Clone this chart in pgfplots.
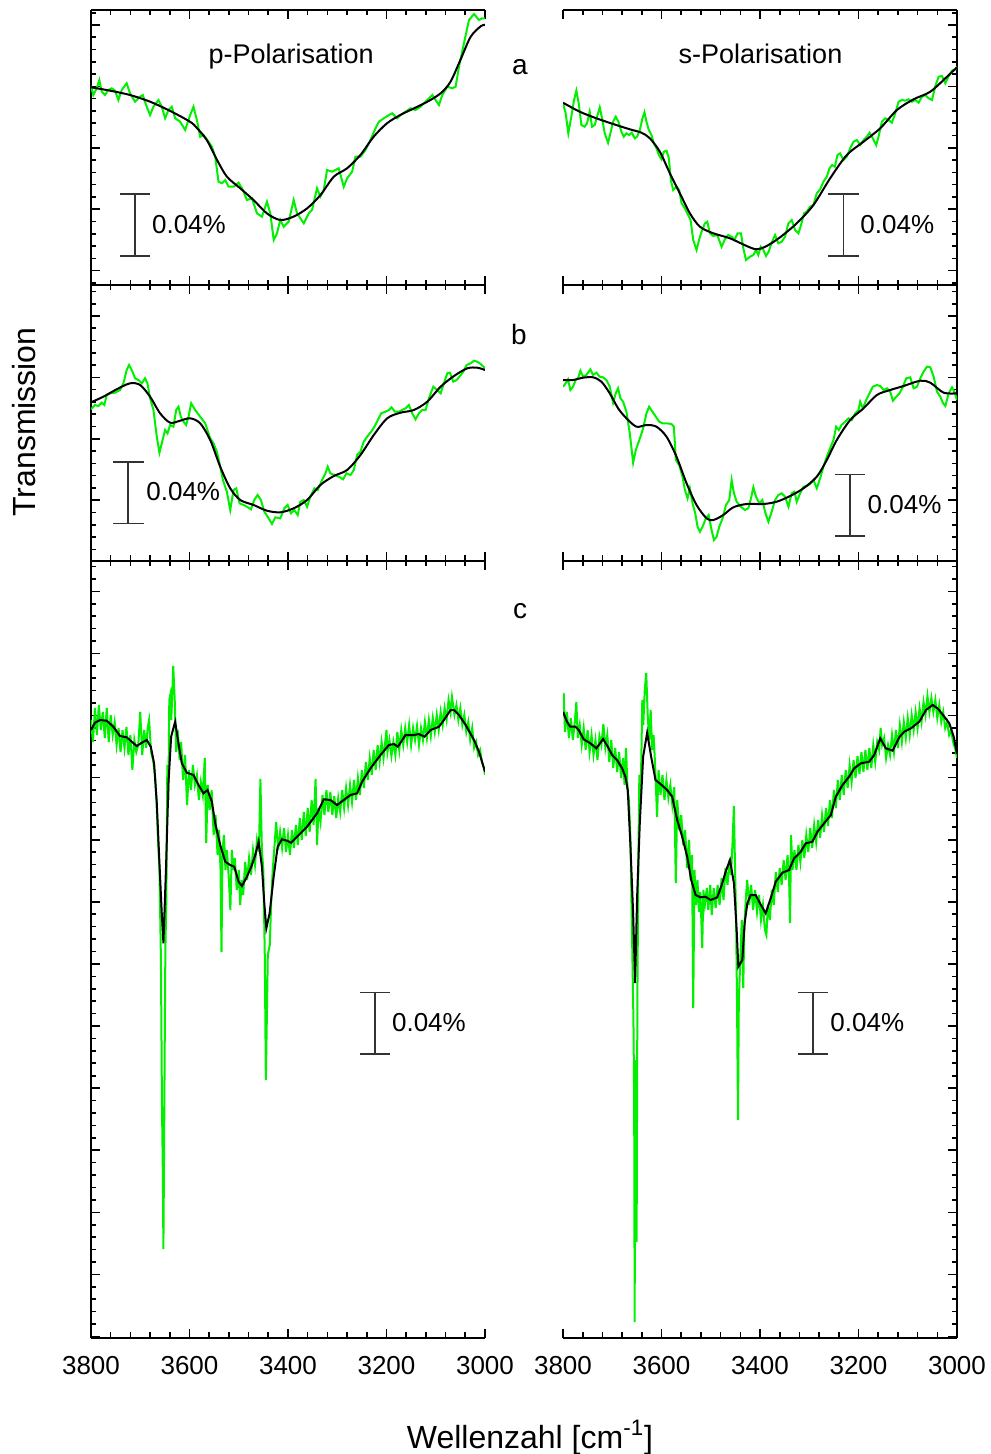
\documentclass[border=0pt]{standalone}
\usepackage{fontspec}
\setmainfont{Liberation Sans}
\usepackage{pgfplots}
\pgfplotsset{compat=1.18}
\definecolor{specgreen}{RGB}{0,240,0}
\pgfplotsset{
  panel/.style={
    scale only axis, width=197pt, anchor=north west,
    x dir=reverse, y dir=reverse,
    xmin=3000, xmax=3800, xtick={3000,3200,...,3800}, minor x tick num=4,
    axis x line*=box, xtick pos=both, tick align=inside,
    major tick length=4.6pt, minor tick length=2.7pt,
    tick style={line width=0.8pt, black},
    axis line style={line width=0.8pt, black},
    yticklabels={},
    /pgf/number format/1000 sep={},
    /pgf/number format/assume math mode=true,
    ticklabel style={font=\fontsize{13}{15}\selectfont},
    xticklabel style={yshift=-6pt},
  },
  lp/.style={panel, axis y line*=left},
  rp/.style={panel, axis y line*=right},
  rowa/.style={height=137.5pt, ymin=10, ymax=285, ytick={25,86.4,...,285}, minor ytick={12.72,25,...,285}, xticklabels={}},
  rowb/.style={height=137.85pt, ymin=285, ymax=560.7, ytick={316,377.4,...,560.7}, minor ytick={291.44,303.72,...,560.7}, xticklabels={}},
  rowc/.style={height=388.5pt, ymin=560.7, ymax=1337.7, ytick={591.3,653.4,...,1338}, minor ytick={566.46,578.88,...,1338}},
  gr/.style={specgreen, line width=1pt},
  bk/.style={black, line width=1pt},
  sb/.style={black!80, line width=0.8pt},
}
\begin{document}
\begin{tikzpicture}
\path[use as bounding box] (0,0) rectangle (495pt,-727pt);

% ---------- a left ----------
\begin{axis}[lp, rowa, at={(45.5pt,-5pt)}]
\addplot[gr] coordinates {(3800,86.0) (3795.3,95.0) (3788.5,88.3) (3783,80.0) (3778.3,91.7) (3771.5,95.0) (3764.7,90.0) (3758,88.3) (3751.2,90.7) (3744.4,100.0) (3737.6,90.0) (3727.5,83.3) (3720.7,93.3) (3710.5,101.7) (3700.3,96.7) (3695,95.0) (3686.8,106.7) (3680,115.0) (3673.2,106.7) (3663,100.0) (3656.3,106.7) (3649.5,118.3) (3642.7,110.0) (3636,106.7) (3629.1,118.3) (3619,121.7) (3608.8,130.0) (3598.6,115.0) (3591.9,106.7) (3585,120.0) (3578.3,136.7) (3571.5,135.0) (3561.3,141.7) (3554.6,146.7) (3547.8,156.7) (3541,181.7) (3534.2,183.3) (3527.4,180.0) (3520.7,186.7) (3510.5,186.7) (3500.3,182.7) (3491.5,190.0) (3483.4,200.0) (3473.2,198.3) (3463,213.3) (3452.9,216.7) (3442.7,201.7) (3435.9,213.3) (3429,240.0) (3422.4,233.3) (3415.6,220.0) (3408.8,226.7) (3398.6,221.7) (3388.5,200.0) (3381.7,213.3) (3368,223.3) (3357.9,213.3) (3351.2,210.0) (3341,188.3) (3334.2,196.7) (3327.4,190.0) (3320.7,170.0) (3310.5,171.7) (3297,168.3) (3286.8,186.7) (3280,178.3) (3269.8,171.7) (3263,156.7) (3252.9,156.7) (3242.7,150.0) (3232.5,140.0) (3222.3,128.3) (3215.6,121.7) (3205.4,118.3) (3195.2,115.0) (3188.4,113.3) (3178.3,118.3) (3171.5,115.0) (3161.3,111.7) (3151.2,108.3) (3141,110.0) (3130.8,106.7) (3117.3,100.0) (3107,95.0) (3100.3,100.0) (3093.5,105.0) (3086.7,95.0) (3076.6,86.7) (3066.4,88.3) (3059.6,86.7) (3052.8,66.7) (3042.7,43.3) (3032.5,20.0) (3022.3,14.0) (3012.2,20.0) (3005.4,18.3) (3000,18.3)};
\addplot[bk, smooth] coordinates {(3800,87.3) (3761,90.7) (3721,95.0) (3680,101.7) (3639,111.0) (3599,121.7) (3585,128.0) (3565,140.0) (3544,160.0) (3524,176.7) (3497,188.3) (3470,200.0) (3443,213.3) (3416,220.0) (3389,216.7) (3361,208.3) (3334,195.0) (3307,176.7) (3280,168.3) (3253,155.0) (3226,136.7) (3199,123.3) (3172,115.0) (3144,108.3) (3117,101.7) (3090,93.3) (3070,81.7) (3050,60.0) (3029,36.7) (3008,26.0) (3000,25.0)};
\addplot[sb, unbounded coords=jump] coordinates {(3741.1,194) (3680.2,194) (nan,nan) (3710.7,194) (3710.7,256) (nan,nan) (3741.1,256) (3680.2,256)};
\end{axis}

% ---------- a right ----------
\begin{axis}[rp, rowa, at={(281.5pt,-5pt)}]
\addplot[gr] coordinates {(3800,103.3) (3794.6,113.3) (3789.2,133.3) (3783.1,116.7) (3777.6,100.0) (3772.9,90.7) (3768.1,103.3) (3762.7,125.0) (3755.9,126.7) (3751.2,123.3) (3745.8,111.7) (3741.0,126.7) (3735.6,125.0) (3730.8,116.7) (3725.4,107.3) (3720.0,120.0) (3715.3,133.3) (3708.5,142.7) (3703.0,131.7) (3698.3,121.7) (3692.9,116.7) (3687.5,121.7) (3681.4,131.7) (3676.6,136.7) (3671.2,133.3) (3665.8,135.0) (3660.3,132.7) (3654.2,138.3) (3649.5,136.7) (3644.1,130.0) (3638.6,118.3) (3634.6,112.3) (3630.5,121.7) (3625.8,130.0) (3620.3,135.0) (3615.6,143.3) (3610.2,148.3) (3605.4,155.0) (3600.0,159.3) (3595.2,151.7) (3589.8,150.7) (3585.1,158.3) (3581.0,180.0) (3576.3,190.0) (3569.5,186.7) (3564.1,190.0) (3559.3,203.3) (3552.5,208.3) (3545.8,215.0) (3541.0,220.0) (3535.6,240.0) (3528.8,250.0) (3522.0,236.7) (3517.3,230.0) (3511.9,223.3) (3507.1,221.7) (3501.7,233.3) (3494.9,236.0) (3486.8,235.0) (3477.9,246.7) (3471.2,239.3) (3464.4,235.0) (3457.6,236.7) (3452.2,240.0) (3445.4,233.3) (3438.6,233.3) (3433.9,248.3) (3428.4,260.0) (3420.3,256.7) (3413.5,255.0) (3408.1,250.0) (3403.4,255.0) (3398.6,246.7) (3393.2,250.0) (3387.8,256.0) (3382.4,251.7) (3376.3,242.7) (3369.5,235.0) (3362.7,243.3) (3355.9,241.7) (3349.1,236.7) (3342.4,223.3) (3335.6,220.0) (3328.8,230.0) (3322.0,233.3) (3316.6,225.0) (3310.5,213.3) (3305.1,211.7) (3298.3,206.7) (3291.5,205.0) (3284.7,193.3) (3277.9,189.3) (3271.2,181.7) (3264.4,176.7) (3258.9,168.3) (3253.5,165.0) (3248.1,166.7) (3242.7,155.0) (3237.3,153.3) (3230.5,160.0) (3223.7,156.7) (3216.9,148.3) (3210.1,141.7) (3203.4,140.0) (3196.6,145.0) (3189.8,140.0) (3183.0,136.7) (3177.6,132.7) (3170.8,138.3) (3164.0,145.0) (3159.3,136.7) (3152.5,121.7) (3145.7,118.3) (3138.9,120.0) (3132.2,122.7) (3125.4,113.3) (3118.6,101.7) (3111.8,100.0) (3105.0,100.7) (3098.3,99.3) (3091.5,101.7) (3084.7,100.0) (3077.9,102.7) (3071.2,96.7) (3064.4,95.0) (3057.6,98.3) (3050.8,100.0) (3044.0,86.0) (3037.2,76.7) (3030.5,76.0) (3023.7,83.3) (3016.9,76.0) (3010.1,70.7) (3003.4,69.3) (3000,66.7)};
\addplot[bk, smooth] coordinates {(3800,102.7) (3766.1,111.7) (3732.2,118.3) (3698.3,124.0) (3664.4,129.3) (3640.7,132.7) (3623.7,138.3) (3603.4,151.7) (3583,173.3) (3562.7,193.3) (3542.4,213.3) (3522,226.7) (3494.9,233.3) (3461,238.3) (3427.1,246.0) (3406.8,249.3) (3386.4,246.0) (3359.3,237.3) (3325.4,223.3) (3291.5,205.0) (3257.6,178.3) (3223.7,155.0) (3189.8,141.7) (3155.9,128.3) (3122,110.0) (3088.1,99.3) (3054.2,91.7) (3020.3,76.7) (3000,67.3)};
\addplot[sb, unbounded coords=jump] coordinates {(3261.9,194.3) (3199,194.3) (nan,nan) (3230.8,194.3) (3230.8,256) (nan,nan) (3261.9,256) (3199,256)};
\end{axis}

% ---------- b left ----------
\begin{axis}[lp, rowb, at={(45.5pt,-142.5pt)}]
\addplot[gr] coordinates {(3800,409.3) (3791.9,405) (3785.1,406) (3778.3,402.7) (3772.9,405) (3768.1,395) (3761.4,393.3) (3751.2,392.7) (3741,390) (3734.2,383.3) (3727.5,370) (3722.7,365) (3717.3,370) (3710.5,378.3) (3703.7,380) (3696.9,383.3) (3690.2,378.3) (3685.4,383.3) (3680,398.3) (3673.2,410) (3666.4,436.7) (3661,452.7) (3656.3,443.3) (3649.5,430) (3644.7,433.3) (3639.3,425) (3632.5,426.7) (3627.1,410) (3622.4,406.7) (3617.6,416.7) (3612.2,421.7) (3606.8,425) (3602,416.7) (3596.6,403.3) (3588.5,410) (3578.3,416.7) (3568.1,423.3) (3558,438.3) (3551.2,443.3) (3544.4,451.7) (3539,463.3) (3532.2,480) (3524.1,491.7) (3517.3,510) (3510.5,490) (3505.1,488.3) (3498.3,503.3) (3490.2,505) (3483.4,506.7) (3475.2,509.3) (3468.5,500) (3461.7,495) (3454.9,500) (3448.1,511.7) (3441.3,516.7) (3432.5,524) (3425.7,517.3) (3415.6,518.3) (3407.4,508.3) (3400.7,505) (3393.9,513.3) (3387.1,510) (3380.3,515) (3374.9,501.7) (3368.1,500) (3361.3,506.7) (3354.6,496.7) (3346.4,488.3) (3339.6,490) (3330.8,480) (3324,473.3) (3319.3,466.7) (3313.9,473.3) (3305.7,475) (3296.9,476.7) (3288.1,479.3) (3281.3,473.3) (3273.2,475) (3266.4,470) (3259.6,455) (3252.9,451.7) (3246.1,441.7) (3239.3,436.7) (3231.2,431.7) (3224.4,426.7) (3217.6,420) (3210.8,413.3) (3202,411.7) (3195.2,410) (3189.8,407.3) (3183,411.7) (3174.9,411.7) (3168.1,410) (3161.3,408.3) (3154.5,405) (3147.8,413.3) (3141,419.3) (3134.2,413.3) (3127.4,410) (3120.6,410) (3113.9,398.3) (3105,386.7) (3096.9,390) (3090.1,393.3) (3083.4,383.3) (3076.6,373.3) (3071.1,372.7) (3064.4,381.7) (3057.6,380) (3050.8,376) (3044,371.7) (3037.2,365) (3029.1,363.3) (3022.3,360.7) (3015.6,361.7) (3008.8,364) (3000,368.3)};
\addplot[bk, smooth] coordinates {(3800,402.3) (3774.9,396.7) (3747.8,389.3) (3720.7,383.3) (3700.3,385) (3680,396.7) (3659.7,413.3) (3639.3,422.7) (3619,420.7) (3598.6,418.3) (3578.3,423.3) (3557.9,440) (3537.6,466.7) (3517.3,488.3) (3496.9,500) (3469.8,505) (3442.7,510.7) (3415.6,512.3) (3388.5,508.3) (3361.3,500) (3334.2,485) (3307,476) (3280,470) (3252.9,455) (3225.8,435) (3198.6,418.3) (3171.5,412.7) (3144.4,410) (3117.3,401.7) (3090.1,386.7) (3063,376) (3035.9,368.3) (3015.6,367.7) (3000,370)};
\addplot[sb, unbounded coords=jump] coordinates {(3755.3,461.7) (3692.4,461.7) (nan,nan) (3724.3,461.7) (3724.3,523.3) (nan,nan) (3755.3,523.3) (3692.4,523.3)};
\end{axis}

% ---------- b right ----------
\begin{axis}[rp, rowb, at={(281.5pt,-142.5pt)}]
\addplot[gr] coordinates {(3800,386.7) (3794.6,383.3) (3789.8,379.3) (3785.1,390) (3779.7,386.7) (3774.2,380) (3769.5,378.3) (3764.7,370.7) (3759.3,376.7) (3752.5,375) (3744.4,369.3) (3739,375) (3732.2,372.7) (3725.4,376.7) (3718.6,377.3) (3711.9,380) (3705.1,386.7) (3698.3,402.7) (3692.9,393.3) (3688.1,388.3) (3683.4,398.3) (3678,401.7) (3671.2,411.7) (3664.4,433.3) (3657.6,462.7) (3652.2,450) (3647.4,443.3) (3642.7,436.7) (3637.3,428.3) (3630.5,413.3) (3625.1,406.7) (3618.3,411.7) (3611.5,416.7) (3604.7,421.7) (3598,423.3) (3589.8,423.3) (3579.6,424) (3574.9,426.7) (3570.8,460) (3564.1,465) (3557.3,476.7) (3552.5,490) (3547.1,498.3) (3542.4,488.3) (3536.9,503.3) (3531.5,513.3) (3526.8,526.7) (3522,531.7) (3516.6,526.7) (3509.8,518.3) (3504.4,515) (3498.3,530) (3493.5,540) (3488.1,536.7) (3482.7,526.7) (3475.9,518.3) (3469.1,505) (3462.4,500) (3457.6,480) (3452.9,493.3) (3447.4,501.7) (3439.3,506.7) (3430.5,510) (3423.7,508.3) (3418.3,498.3) (3413.5,487.3) (3408.1,496.7) (3401.3,503.3) (3395.2,500) (3389.8,511.7) (3383,521.7) (3376.2,511.7) (3369.5,500) (3362.7,495) (3355.9,493.3) (3349.1,496.7) (3342.3,506.7) (3335.6,493.3) (3330.1,491.7) (3325.4,501.7) (3318.6,493.3) (3311.8,486.7) (3305.1,486) (3298.3,484) (3291.5,480) (3284.7,488.3) (3277.9,478.3) (3271.2,466.7) (3264.4,456.7) (3257.6,448.3) (3250.8,440) (3245.4,426.7) (3240,430) (3234.5,425) (3227.1,421.7) (3220.3,418.3) (3213.5,420) (3206.7,413.3) (3200,410) (3196.6,401.7) (3191.2,408.3) (3184.4,400) (3177.6,393.3) (3170.8,386.7) (3162.7,385) (3155.9,386) (3149.1,390) (3142.3,388.3) (3135.6,391.7) (3130.1,400.7) (3123.4,396.7) (3116.6,393.3) (3109.8,386.7) (3103,378.3) (3094.9,377.3) (3088.1,388.3) (3081.3,386.7) (3074.5,378.3) (3067.8,371.7) (3061,366.7) (3054.2,367.3) (3047.4,376.7) (3040.6,391.7) (3033.9,396.7) (3028.4,403.3) (3023.7,406) (3016.9,393.3) (3010.1,387.3) (3005.4,391.7) (3000,400)};
\addplot[bk, smooth] coordinates {(3800,380) (3779.7,380) (3759.3,377.7) (3739,377.3) (3722,381.7) (3705.1,393.3) (3688.1,408.3) (3671.2,418.3) (3650.8,426.7) (3630.5,425) (3610.2,426.7) (3589.8,436.7) (3569.5,456.7) (3549.1,483.3) (3528.8,505) (3508.5,518.3) (3494.9,520) (3474.6,515) (3454.2,507.3) (3427.1,504) (3393.2,504) (3366.1,501.7) (3338.9,496) (3311.8,488.3) (3284.7,476.7) (3264.4,460) (3244.1,440) (3216.9,420) (3189.8,408.3) (3162.7,395) (3135.6,390) (3108.4,386) (3074.5,380.7) (3054.2,382.7) (3027.1,392.7) (3000,393.3)};
\addplot[sb, unbounded coords=jump] coordinates {(3247.7,474.3) (3186.8,474.3) (nan,nan) (3217.2,474.3) (3217.2,536) (nan,nan) (3247.7,536) (3186.8,536)};
\end{axis}

% ---------- c left ----------
\begin{axis}[lp, rowc, at={(45.5pt,-280.35pt)}]
\addplot[gr] coordinates {(3800,720) (3796,742) (3792,708) (3788,735) (3784,705) (3780,730) (3776,712) (3772,738) (3768,708) (3764,742) (3760,715) (3756,735) (3752,722) (3748,745) (3744,728) (3740,752) (3736,730) (3732,748) (3728,727) (3724,755) (3720,735) (3716,770) (3712,740) (3708,752) (3704,745) (3700,712) (3696,755) (3692,730) (3688,748) (3685,728) (3682,720) (3678,752) (3674,760) (3670,775) (3667,800) (3664,840) (3661,870) (3658,960) (3656,1100) (3654,1178) (3653,1249) (3652,1178) (3650.5,1060) (3649,950) (3647,900) (3645,765) (3643,800) (3641,700) (3639,695) (3637,720) (3633,666) (3630,700) (3627,752) (3624,730) (3620,760) (3617,742) (3613,780) (3609,755) (3605,805) (3601,770) (3597,790) (3593,765) (3589,785) (3585,775) (3581,800) (3577,782) (3573,795) (3569,758) (3566,843) (3563,785) (3559,810) (3555,790) (3551,835) (3547,815) (3543,855) (3540,830) (3537,870) (3535,952) (3533,850) (3530,835) (3527,870) (3524,850) (3520,880) (3517,910) (3514,850) (3511,870) (3508,858) (3504,890) (3500,870) (3497,905) (3494,880) (3491,895) (3487,862) (3483,880) (3479,858) (3475,875) (3471,850) (3467,865) (3463,840) (3459,852) (3456,779) (3453,850) (3450,870) (3447,960) (3445,1080) (3443,1020) (3441,955) (3437,945) (3434,900) (3431,870) (3428,850) (3424,822) (3420,850) (3416,832) (3412,848) (3408,828) (3404,852) (3400,835) (3396,855) (3392,830) (3388,848) (3384,825) (3380,845) (3376,818) (3372,840) (3368,812) (3364,836) (3360,808) (3356,832) (3352,800) (3348,825) (3344,779) (3341,845) (3338,808) (3334,822) (3330,795) (3326,815) (3322,790) (3318,812) (3314,792) (3310,815) (3306,796) (3302,818) (3298,798) (3294,812) (3290,790) (3286,808) (3282,788) (3278,805) (3274,785) (3270,802) (3266,780) (3262,800) (3258,778) (3254,795) (3250,770) (3246,788) (3242,762) (3238,780) (3234,758) (3230,775) (3226,750) (3222,770) (3218,745) (3214,762) (3210,742) (3206,758) (3200,730) (3198,752) (3194,740) (3190,756) (3186,742) (3182,755) (3178,732) (3174,750) (3170,730) (3166,745) (3162,728) (3158,742) (3154,725) (3150,745) (3146,728) (3142,740) (3138,726) (3134,745) (3130,728) (3126,740) (3122,722) (3118,738) (3114,720) (3110,736) (3106,718) (3102,732) (3098,715) (3094,730) (3090,712) (3086,725) (3082,708) (3078,720) (3074,700) (3070,712) (3067,697) (3062,715) (3058,705) (3054,720) (3050,708) (3046,725) (3042,715) (3038,732) (3034,722) (3030,740) (3026,728) (3022,748) (3018,742) (3014,755) (3010,750) (3006,762) (3002,768) (3000,775)};
\addplot[bk] coordinates {(3800,730) (3791.9,722.7) (3781.7,720) (3768.1,720.7) (3754.6,726.7) (3741,736) (3727.5,737.3) (3717.3,741.7) (3707.1,746) (3696.9,742.7) (3686.8,740) (3678.6,746.7) (3671.9,763.3) (3666.4,803.3) (3661,863.3) (3656.3,913.3) (3652.9,943.3) (3647.4,863.3) (3642.7,783.3) (3637.3,736.7) (3629.1,721.7) (3622.4,743.3) (3615.6,763.3) (3605.4,772.7) (3591.9,775) (3581.7,785) (3571.5,793.3) (3563.4,790) (3554.6,801.7) (3547.8,823.3) (3537.6,845) (3527.4,861.7) (3517.3,865) (3509.1,866.7) (3500.3,881.7) (3493.5,886) (3483.4,876.7) (3473.2,865) (3466.4,855) (3459.6,841.7) (3452.9,866.7) (3448.1,903.3) (3444,928.3) (3437.3,913.3) (3429.1,876.7) (3421,846.7) (3412.2,839.3) (3402,840.7) (3393.9,842.7) (3381.7,836.7) (3361.3,826.7) (3341,813.3) (3327.4,799.3) (3313.9,800) (3300.3,805) (3286.8,800) (3273.2,795) (3259.6,793.3) (3249.5,781.7) (3232.5,768.3) (3212.2,755) (3195.2,745) (3185,744) (3176.9,746.7) (3161.3,735) (3144.4,735) (3134.2,734) (3122.7,736.7) (3110.5,730) (3093.5,726.7) (3083.4,720) (3069.8,710) (3063,710) (3052.8,715) (3039.3,725) (3022.3,740) (3012.2,751.7) (3000,771.7)};
\addplot[sb, unbounded coords=jump] coordinates {(3253.8,992.3) (3192.9,992.3) (nan,nan) (3223.3,992.3) (3223.3,1054) (nan,nan) (3253.8,1054) (3192.9,1054)};
\end{axis}

% ---------- c right ----------
\begin{axis}[rp, rowc, at={(281.5pt,-280.35pt)}]
\addplot[gr] coordinates {(3800,710) (3798.6,693) (3796,732) (3792,712) (3788,738) (3784,718) (3780,740) (3776,722) (3772.9,702) (3770,738) (3766,725) (3762,745) (3758,728) (3754,750) (3750,730) (3746,752) (3742,735) (3738,755) (3734,740) (3730,760) (3726,736) (3722,745) (3718,724) (3714,748) (3710,735) (3706,762) (3702,740) (3698,768) (3694,748) (3690,772) (3686,752) (3682,778) (3678,758) (3675,785) (3672,748) (3669,790) (3666,800) (3663,840) (3660,930) (3657,1020) (3655.5,1100) (3654.5,1322) (3653.5,1100) (3652,1060) (3650.5,1242) (3649,1000) (3647,860) (3645,775) (3643,800) (3641,760) (3639,700) (3637,725) (3634,690) (3631,673) (3628,715) (3625,740) (3622,710) (3619,750) (3616,735) (3613,765) (3609,817) (3606,770) (3602,795) (3598,775) (3594,800) (3590,780) (3586,798) (3582,785) (3578,805) (3574,787) (3571,883) (3568,800) (3564,830) (3560,815) (3556,845) (3552,830) (3548,868) (3544,840) (3541,880) (3538,855) (3535.6,1008) (3533,870) (3530,905) (3527,880) (3524,912) (3521,892) (3517.3,948) (3515,890) (3512,905) (3508,888) (3505,910) (3501,885) (3498,915) (3494,888) (3490,908) (3486,885) (3482,905) (3478,878) (3474,900) (3470,868) (3466,885) (3462,860) (3459,875) (3456,845) (3453,806) (3451,860) (3448.5,920) (3446.5,1010) (3444.7,1120) (3443,1000) (3440,960) (3437,920) (3434,988) (3432,930) (3429,900) (3426,880) (3422,905) (3418,885) (3414,910) (3410,890) (3406,912) (3402,895) (3398,920) (3394,905) (3390,930) (3387,935) (3384,905) (3380,920) (3376,890) (3372,905) (3368,872) (3364,892) (3360,868) (3356,885) (3352,860) (3348,880) (3344,855) (3341,878) (3339,923) (3337,835) (3334,870) (3330,850) (3326,870) (3322,845) (3318,862) (3314,840) (3310,858) (3306,835) (3302,852) (3298,828) (3294,848) (3290,825) (3286,842) (3282,820) (3278,838) (3274,815) (3270,832) (3266,808) (3262,826) (3258,800) (3254,818) (3250,790) (3246,808) (3242,780) (3238,800) (3234,775) (3230,795) (3226,770) (3222,788) (3218,765) (3214,782) (3210,760) (3206,778) (3202,756) (3198,774) (3194,752) (3190,772) (3186,750) (3182,770) (3178,748) (3174,768) (3170,745) (3166,762) (3162,742) (3158,750) (3155,728) (3152,745) (3148,738) (3144,758) (3140,745) (3136,755) (3132,735) (3128,752) (3124,730) (3120,748) (3116,725) (3112,742) (3108,722) (3104,738) (3100,718) (3096,735) (3092,715) (3088,730) (3084,712) (3080,728) (3076,708) (3072,722) (3068,702) (3064,715) (3060,696) (3056,712) (3052,698) (3048,712) (3044,700) (3040,718) (3036,705) (3032,722) (3028,712) (3024,728) (3020,722) (3016,735) (3012,730) (3008,742) (3004,748) (3000,758)};
\addplot[bk] coordinates {(3800,711.7) (3791.9,721.7) (3785.1,726.7) (3774.9,726.7) (3768.1,730) (3758,739.3) (3744.4,743.3) (3732.2,748.3) (3718.6,739) (3709.1,746.7) (3700.3,755) (3690.2,760) (3680,768.3) (3673.2,776.7) (3668.5,790) (3663,846.7) (3657.6,913.3) (3653.6,983) (3649.5,896.7) (3644.1,823.3) (3637.3,756.7) (3629.1,732.7) (3621,756.7) (3612.2,780) (3602,784) (3588.5,790) (3578.3,796.7) (3568.1,820) (3558,836.7) (3547.8,856.7) (3539.6,880) (3530.8,895) (3520.7,897.3) (3510.5,896.7) (3500.3,900) (3486.8,897.3) (3476.6,883.3) (3469.8,871.7) (3461,860) (3452.9,883.3) (3447.4,930) (3444,966.7) (3435.9,960) (3431.2,923.3) (3425.7,903.3) (3419,895) (3408.8,895) (3400,903.3) (3388.5,913.3) (3378.3,898.3) (3368.1,881.7) (3354.6,872.7) (3341,870) (3330.8,858.3) (3317.3,851.7) (3307.1,843.3) (3293.5,841.7) (3283.4,831.7) (3269.8,823.3) (3256.2,815) (3246.1,796.7) (3232.5,785) (3219,776.7) (3208.8,768.3) (3195.2,763.3) (3178.3,761.7) (3168.1,755) (3155.9,738.3) (3144.4,748.3) (3130.8,750.7) (3117.3,737.3) (3107.1,731.7) (3093.5,728.3) (3076.6,721.7) (3063,710) (3049.5,705) (3039.3,708.3) (3025.7,716.7) (3015.6,723.3) (3006.7,736.7) (3000,754)};
\addplot[sb, unbounded coords=jump] coordinates {(3323.4,992.3) (3261.3,992.3) (nan,nan) (3291.8,992.3) (3291.8,1054) (nan,nan) (3323.4,1054) (3261.3,1054)};
\end{axis}

% ---------- texts ----------
\begin{scope}[every node/.style={inner sep=0pt, text=black}]
\node[anchor=base, font=\fontsize{13.5}{16}\selectfont] at (145.6pt,-31.65pt) {p-Polarisation};
\node[anchor=base, font=\fontsize{13.5}{16}\selectfont] at (380.25pt,-31.65pt) {s-Polarisation};
\node[anchor=base, font=\fontsize{14}{16}\selectfont] at (260pt,-37.5pt) {a};
\node[anchor=base, font=\fontsize{14}{16}\selectfont] at (259.5pt,-172.5pt) {b};
\node[anchor=base, font=\fontsize{14}{16}\selectfont] at (260pt,-309.2pt) {c};
\node[anchor=base west, font=\fontsize{13}{15}\selectfont] at (75.85pt,-116.65pt) {0.04\%};
\node[anchor=base west, font=\fontsize{13}{15}\selectfont] at (430pt,-116.65pt) {0.04\%};
\node[anchor=base west, font=\fontsize{13}{15}\selectfont] at (73pt,-250pt) {0.04\%};
\node[anchor=base west, font=\fontsize{13}{15}\selectfont] at (433.65pt,-256.65pt) {0.04\%};
\node[anchor=base west, font=\fontsize{13}{15}\selectfont] at (195.85pt,-515.5pt) {0.04\%};
\node[anchor=base west, font=\fontsize{13}{15}\selectfont] at (415pt,-515.5pt) {0.04\%};
\node[anchor=base, rotate=90, font=\fontsize{16}{19}\selectfont] at (17.5pt,-211pt) {Transmission};
\node[anchor=base, font=\fontsize{16}{19}\selectfont] at (265pt,-724.2pt) {Wellenzahl [cm\textsuperscript{-1}]};
\end{scope}
\end{tikzpicture}
\end{document}
